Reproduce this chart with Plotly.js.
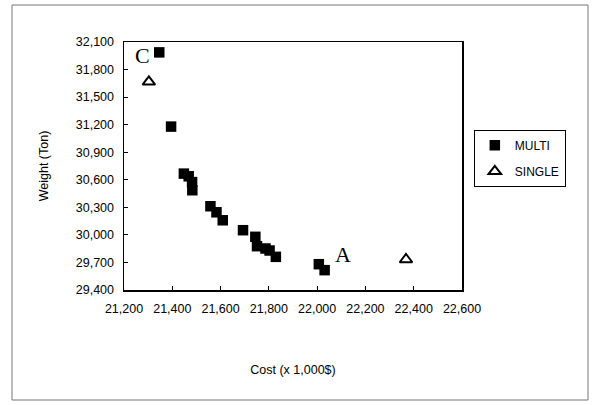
<!DOCTYPE html>
<html>
<head>
<meta charset="utf-8">
<script src="https://cdn.plot.ly/plotly-3.0.1.min.js"></script>
<style>html,body{margin:0;padding:0;background:#fff;}#chart{width:596px;height:405px;}</style>
</head>
<body>
<div id="chart"></div>
<script>
const multiCost   = [21346, 21395, 21448, 21468, 21482, 21483, 21558, 21583, 21609, 21693, 21744, 21751, 21786, 21803, 21829, 22007, 22031];
const multiWeight = [31987, 31179, 30667, 30638, 30575, 30486, 30312, 30246, 30159, 30051, 29979, 29877, 29852, 29830, 29761, 29681, 29616];
const singleCost   = [21303, 22368];
const singleWeight = [31666, 29732];
const xTicks = [21200, 21400, 21600, 21800, 22000, 22200, 22400, 22600];
const yTicks = [29400, 29700, 30000, 30300, 30600, 30900, 31200, 31500, 31800, 32100];
const pointLabels = ["C", "A"];

const fmt = v => v.toLocaleString('en-US');

const traces = [
  {
    x: multiCost, y: multiWeight, type: 'scatter', mode: 'markers', name: 'MULTI', legendgroup: 'm',
    marker: {symbol: 'square', size: 10.5, color: '#000'}
  },
  {
    x: singleCost, y: singleWeight, type: 'scatter', mode: 'markers', name: 'SINGLE', legendgroup: 's',
    marker: {symbol: 'triangle-up-open', size: 11, color: '#000', line: {width: 2, color: '#000'}}
  }
];

const font = {family: 'Liberation Sans, Arial, sans-serif', size: 12.5, color: '#000'};

const layout = {
  width: 596, height: 405,
  margin: {l: 124, r: 134, t: 42, b: 115},
  paper_bgcolor: '#fff', plot_bgcolor: '#fff',
  font: font,
  showlegend: true,
  legend: {
    x: 1.035, y: 0.646, xanchor: 'left', yanchor: 'top',
    bordercolor: '#000', borderwidth: 1, bgcolor: '#fff',
    font: {family: 'Liberation Sans, Arial, sans-serif', size: 12, color: '#000'},
    itemwidth: 30, tracegroupgap: 7
  },
  xaxis: {
    range: [21200, 22600], tickvals: xTicks, ticktext: xTicks.map(fmt),
    showline: true, linecolor: '#000', linewidth: 1.5, mirror: true,
    ticks: 'inside', ticklen: 4, tickcolor: '#000',
    showgrid: false, zeroline: false,
    tickfont: {size: 12.5}, ticklabelstandoff: 6,
    title: {text: 'Cost (x 1,000$)', font: {size: 12.5}, standoff: 50}
  },
  yaxis: {
    range: [29400, 32100], tickvals: yTicks, ticktext: yTicks.map(fmt),
    showline: true, linecolor: '#000', linewidth: 1.5, mirror: true,
    ticks: 'inside', ticklen: 4, tickcolor: '#000',
    showgrid: false, zeroline: false,
    tickfont: {size: 12.5}, ticklabelstandoff: 6,
    title: {text: 'Weight (Ton)', font: {size: 12.5}, standoff: 24}
  },
  annotations: [
    {x: 21275, y: 31951, text: pointLabels[0], showarrow: false, font: {family: 'Liberation Serif, Times New Roman, serif', size: 22, color: '#000'}},
    {x: 22107, y: 29790, text: pointLabels[1], showarrow: false, font: {family: 'Liberation Serif, Times New Roman, serif', size: 22, color: '#000'}}
  ],
  shapes: [
    {type: 'rect', xref: 'paper', yref: 'paper',
     x0: (12 - 124) / 338, x1: (588 - 124) / 338,
     y0: (290 - 400) / 248, y1: (290 - 5) / 248,
     line: {color: '#777', width: 1}}
  ]
};

Plotly.newPlot('chart', traces, layout, {staticPlot: true, displayModeBar: false});
</script>
</body>
</html>
